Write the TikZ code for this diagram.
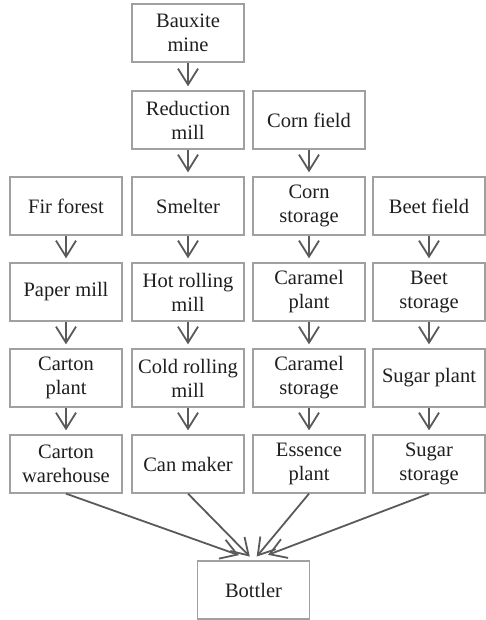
\documentclass[tikz,border=0pt]{standalone}
\usepackage{fontspec}
\setmainfont{Liberation Serif}
\usetikzlibrary{arrows.meta}
\definecolor{boxgray}{HTML}{A0A0A0}
\definecolor{arrowgray}{HTML}{5A5A5A}
\definecolor{inkgray}{HTML}{1E1E1E}
\begin{document}
\begin{tikzpicture}[x=1pt,y=1pt,
  stage/.style={draw=boxgray, line width=1.3pt, minimum width=112pt,
    minimum height=58pt, inner sep=0pt, align=center,
    font=\fontsize{20.5}{24}\selectfont, text=inkgray},
  flow/.style={draw=arrowgray, line width=1.8pt,
    -{Straight Barb[length=16pt,width=20pt,line width=1.8pt]}, shorten >=4pt},
]
\useasboundingbox (0,0) rectangle (485,-620);

% aluminium column
\node[stage] (bauxite)  at (188,-33)  {Bauxite\\mine};
\node[stage] (reduct)   at (188,-120) {Reduction\\mill};
\node[stage] (smelter)  at (188,-206) {Smelter};
\node[stage] (hotroll)  at (188,-292) {Hot rolling\\mill};
\node[stage] (coldroll) at (188,-378) {Cold rolling\\mill};
\node[stage] (canmaker) at (188,-464) {Can maker};

% carton column
\node[stage] (fir)      at (66,-206) {Fir forest};
\node[stage] (paper)    at (66,-292) {Paper mill};
\node[stage] (carton)   at (66,-378) {Carton\\plant};
\node[stage] (cartonwh) at (66,-464) {Carton\\warehouse};

% caramel column
\node[stage] (cornfld)  at (309,-120) {Corn field};
\node[stage] (cornst)   at (309,-206) {Corn\\storage};
\node[stage] (caramel)  at (309,-292) {Caramel\\plant};
\node[stage] (caramst)  at (309,-378) {Caramel\\storage};
\node[stage] (essence)  at (309,-464) {Essence\\plant};

% sugar column
\node[stage] (beetfld)  at (429,-206) {Beet field};
\node[stage] (beetst)   at (429,-292) {Beet\\storage};
\node[stage] (sugar)    at (429,-378) {Sugar plant};
\node[stage] (sugarst)  at (429,-464) {Sugar\\storage};

\node[stage] (bottler)  at (253.5,-590) {Bottler};

% vertical flows
\foreach \a/\b in {bauxite/reduct, reduct/smelter, smelter/hotroll,
    hotroll/coldroll, coldroll/canmaker,
    fir/paper, paper/carton, carton/cartonwh,
    cornfld/cornst, cornst/caramel, caramel/caramst, caramst/essence,
    beetfld/beetst, beetst/sugar, sugar/sugarst}
  \draw[flow] (\a.south) -- (\b.north);

% converging flows into the bottler
\draw[flow, shorten >=15.5pt] (cartonwh.south) -- (bottler.north);
\draw[flow, shorten >=5.3pt]  (canmaker.south) -- (bottler.north);
\draw[flow, shorten >=5pt]    (essence.south)  -- (bottler.north);
\draw[flow, shorten >=15.5pt] (sugarst.south)  -- (bottler.north);
\end{tikzpicture}
\end{document}
